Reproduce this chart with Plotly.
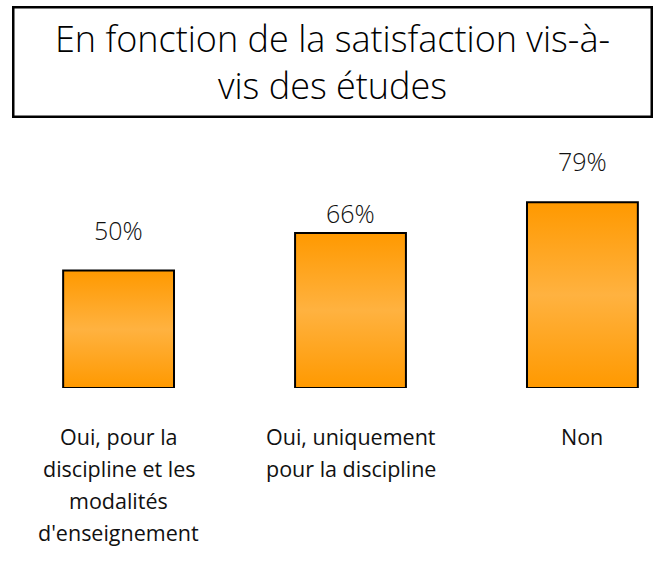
import plotly.graph_objects as go

# Data
categories = [
    ["Oui, pour la", "discipline et les", "modalités", "d'enseignement"],
    ["Oui, uniquement", "pour la discipline"],
    ["Non"],
]
values = [50, 66, 79]
value_labels = ["50%", "66%", "79%"]
title_lines = ["En fonction de la satisfaction vis-à-", "vis des études"]

# Style
FONT = "Open Sans"
BAR_WIDTH = 0.478
label_gap = [41, 20, 41]          # px between bar top and its value label centre
gradient = [[0.0, "#FF9900"], [0.5, "#FFB240"], [1.0, "#FF9900"]]

W, H = 664, 566
M_L, M_R, M_T, M_B = 49, 12, 152.5, 178
plot_w = W - M_L - M_R
plot_h = H - M_T - M_B

fig = go.Figure()

for i, v in enumerate(values):
    x0, x1 = i - BAR_WIDTH / 2, i + BAR_WIDTH / 2
    fig.add_trace(go.Scatter(
        x=[x0, x0, x1, x1, x0],
        y=[0, v, v, 0, 0],
        mode="lines",
        fill="toself",
        fillgradient=dict(type="vertical", colorscale=gradient),
        line=dict(color="black", width=2),
        hoverinfo="skip",
        showlegend=False,
    ))
    fig.add_annotation(
        x=i, y=v, xref="x", yref="y", text=value_labels[i],
        showarrow=False, yanchor="middle", xanchor="center",
        yshift=label_gap[i],
        font=dict(family=FONT, size=25, color="#111111", weight=300),
    )
    for j, line in enumerate(categories[i]):
        fig.add_annotation(
            x=i, y=0, xref="x", yref="y", text=line,
            showarrow=False, yanchor="middle", xanchor="center",
            yshift=-48 - 32 * j,
            font=dict(family=FONT, size=21.5, color="#111111", weight=400),
        )

# Boxed title
box_cx, box_cy = 332, 61.5
fig.add_annotation(
    x=(box_cx - M_L) / plot_w, y=(H - M_B - box_cy) / plot_h,
    xref="paper", yref="paper", xanchor="center", yanchor="middle",
    text="<br>".join(title_lines), showarrow=False,
    width=636, height=107, borderpad=0,
    bordercolor="black", borderwidth=2.5, bgcolor="white",
    font=dict(family=FONT, size=36, color="#000000", weight=300),
)

fig.update_layout(
    width=W, height=H,
    margin=dict(l=M_L, r=M_R, t=M_T, b=M_B),
    paper_bgcolor="white", plot_bgcolor="white",
    xaxis=dict(range=[-0.3, 2.3], visible=False, fixedrange=True),
    yaxis=dict(range=[0, 100], visible=False, fixedrange=True),
)

fig.write_html("out.html")
